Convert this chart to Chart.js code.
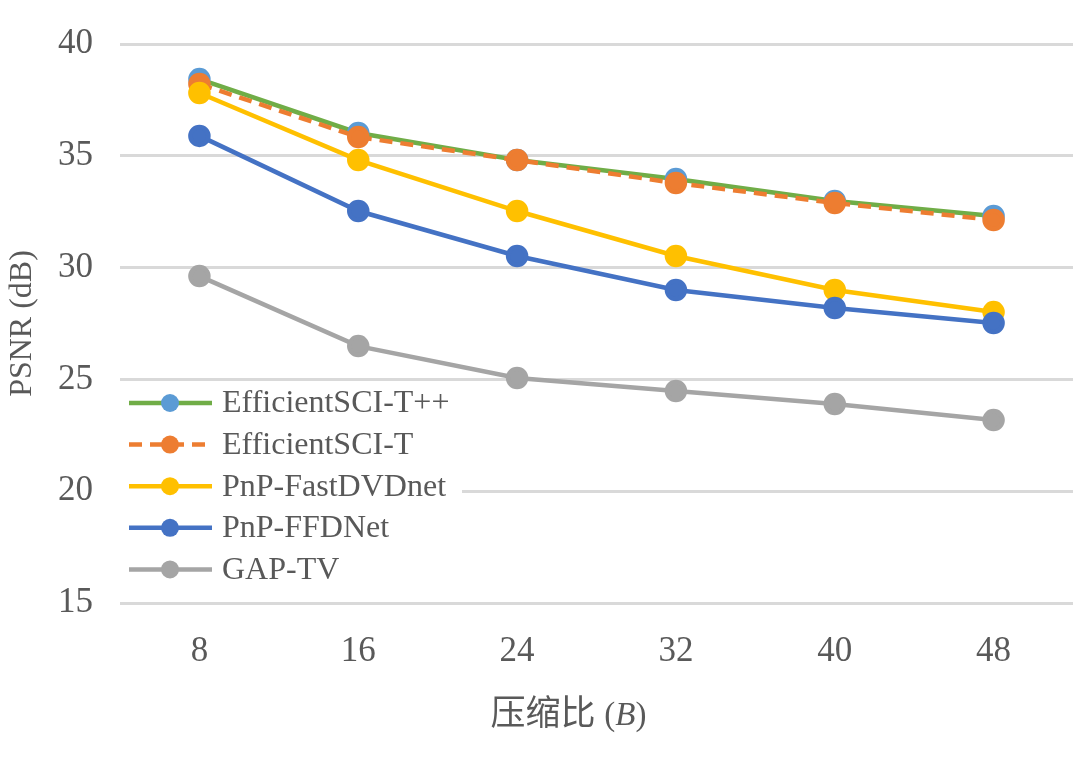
<!DOCTYPE html>
<html>
<head>
<meta charset="utf-8">
<script src="https://cdn.jsdelivr.net/npm/chart.js@4.4.1/dist/chart.umd.min.js"></script>
<style>
  html, body { margin: 0; padding: 0; background: #fff; overflow: hidden; }
  canvas { display: block; }
</style>
</head>
<body>
<canvas id="chart" width="1074" height="770"></canvas>
<script>
// data
var categories = ['8', '16', '24', '32', '40', '48'];
var seriesNames = ['EfficientSCI-T++', 'EfficientSCI-T', 'PnP-FastDVDnet', 'PnP-FFDNet', 'GAP-TV'];
var effSciTpp = [38.43, 36.02, 34.81, 33.96, 32.98, 32.31];
var effSciT = [38.21, 35.84, 34.81, 33.78, 32.89, 32.13];
var pnpFastDvd = [37.81, 34.81, 32.53, 30.52, 29.00, 28.01];
var pnpFfd = [35.89, 32.53, 30.52, 29.00, 28.19, 27.52];
var gapTv = [29.62, 26.49, 25.06, 24.48, 23.90, 23.18];
var yTicks = [15, 20, 25, 30, 35, 40];

var textColor = '#595959';
var serif = '"Liberation Serif", "Times New Roman", serif';

function series(i, values, line, marker, dash, order) {
  return {
    label: seriesNames[i],
    data: values,
    borderColor: line,
    backgroundColor: marker,
    pointBackgroundColor: marker,
    pointBorderColor: marker,
    pointRadius: 9,
    pointHoverRadius: 9,
    borderWidth: 4.5,
    borderDash: dash,
    tension: 0,
    clip: false,
    order: order
  };
}

// legend drawn inside the plot, on a white box
var innerLegend = {
  id: 'innerLegend',
  afterDraw: function(chart) {
    var ctx = chart.ctx;
    var x0 = 120, y0 = 384, w = 342, h = 206;
    ctx.save();
    ctx.fillStyle = '#ffffff';
    ctx.fillRect(x0, y0, w, h);
    var sets = chart.data.datasets;
    for (var i = 0; i < sets.length; i++) {
      var ds = sets[i];
      var y = 403 + i * 41.6;
      ctx.beginPath();
      ctx.strokeStyle = ds.borderColor;
      ctx.lineWidth = 4.5;
      ctx.setLineDash(ds.borderDash || []);
      ctx.lineDashOffset = 0;
      ctx.moveTo(129, y);
      ctx.lineTo(212, y);
      ctx.stroke();
      ctx.setLineDash([]);
      ctx.beginPath();
      ctx.fillStyle = ds.pointBackgroundColor;
      ctx.arc(170, y, 9, 0, Math.PI * 2);
      ctx.fill();
      ctx.fillStyle = textColor;
      ctx.font = '32px ' + serif;
      ctx.textBaseline = 'middle';
      ctx.textAlign = 'left';
      ctx.fillText(ds.label, 222, y + 1);
    }
    ctx.restore();
  }
};

// x axis title with italic B
var xTitle = {
  id: 'xTitle',
  afterDraw: function(chart) {
    var ctx = chart.ctx;
    var a = chart.chartArea;
    var cx = (a.left + a.right) / 2 - 28;
    var y = 716;
    var parts = [
      { t: '压缩比 ', f: '35px ' + serif + ', "Noto Sans CJK SC"' },
      { t: '(', f: '33px ' + serif },
      { t: 'B', f: 'italic 33px ' + serif },
      { t: ')', f: '33px ' + serif }
    ];
    ctx.save();
    ctx.fillStyle = textColor;
    ctx.textBaseline = 'middle';
    ctx.textAlign = 'left';
    var total = 0;
    parts.forEach(function(p) { ctx.font = p.f; p.w = ctx.measureText(p.t).width; total += p.w; });
    var x = cx - total / 2;
    parts.forEach(function(p) { ctx.font = p.f; ctx.fillText(p.t, x, y); x += p.w; });
    ctx.restore();
  }
};

new Chart(document.getElementById('chart'), {
  type: 'line',
  data: {
    labels: categories,
    datasets: [
      series(0, effSciTpp, '#70AD47', '#5B9BD5', [], 5),
      series(1, effSciT, '#ED7D31', '#ED7D31', [13, 8], 4),
      series(2, pnpFastDvd, '#FFC000', '#FFC000', [], 3),
      series(3, pnpFfd, '#4472C4', '#4472C4', [], 2),
      series(4, gapTv, '#A5A5A5', '#A5A5A5', [], 1)
    ]
  },
  options: {
    responsive: false,
    animation: false,
    layout: { autoPadding: false, padding: { left: 0, top: 44, right: 1, bottom: 0 } },
    plugins: {
      legend: { display: false },
      tooltip: { enabled: false }
    },
    scales: {
      x: {
        offset: true,
        grid: { display: false, drawTicks: false },
        border: { display: false },
        ticks: { color: textColor, font: { family: serif, size: 35 }, padding: 28, maxRotation: 0 },
        afterFit: function(scale) {
          scale.height = 167;
          scale.paddingLeft = 0;
          scale.paddingRight = 0;
        }
      },
      y: {
        min: 15,
        max: 40,
        afterBuildTicks: function(scale) {
          scale.ticks = yTicks.map(function(v) { return { value: v }; });
        },
        grid: { color: '#D9D9D9', lineWidth: 3, drawTicks: false },
        border: { display: false },
        ticks: { color: textColor, font: { family: serif, size: 35 }, padding: 27 },
        title: {
          display: true,
          text: 'PSNR (dB)',
          color: textColor,
          font: { family: serif, size: 32 },
          padding: { top: 3, bottom: 0 }
        },
        afterFit: function(scale) {
          scale.width = 120;
          scale.paddingTop = 0;
          scale.paddingBottom = 0;
        }
      }
    }
  },
  plugins: [innerLegend, xTitle]
});
</script>
</body>
</html>
